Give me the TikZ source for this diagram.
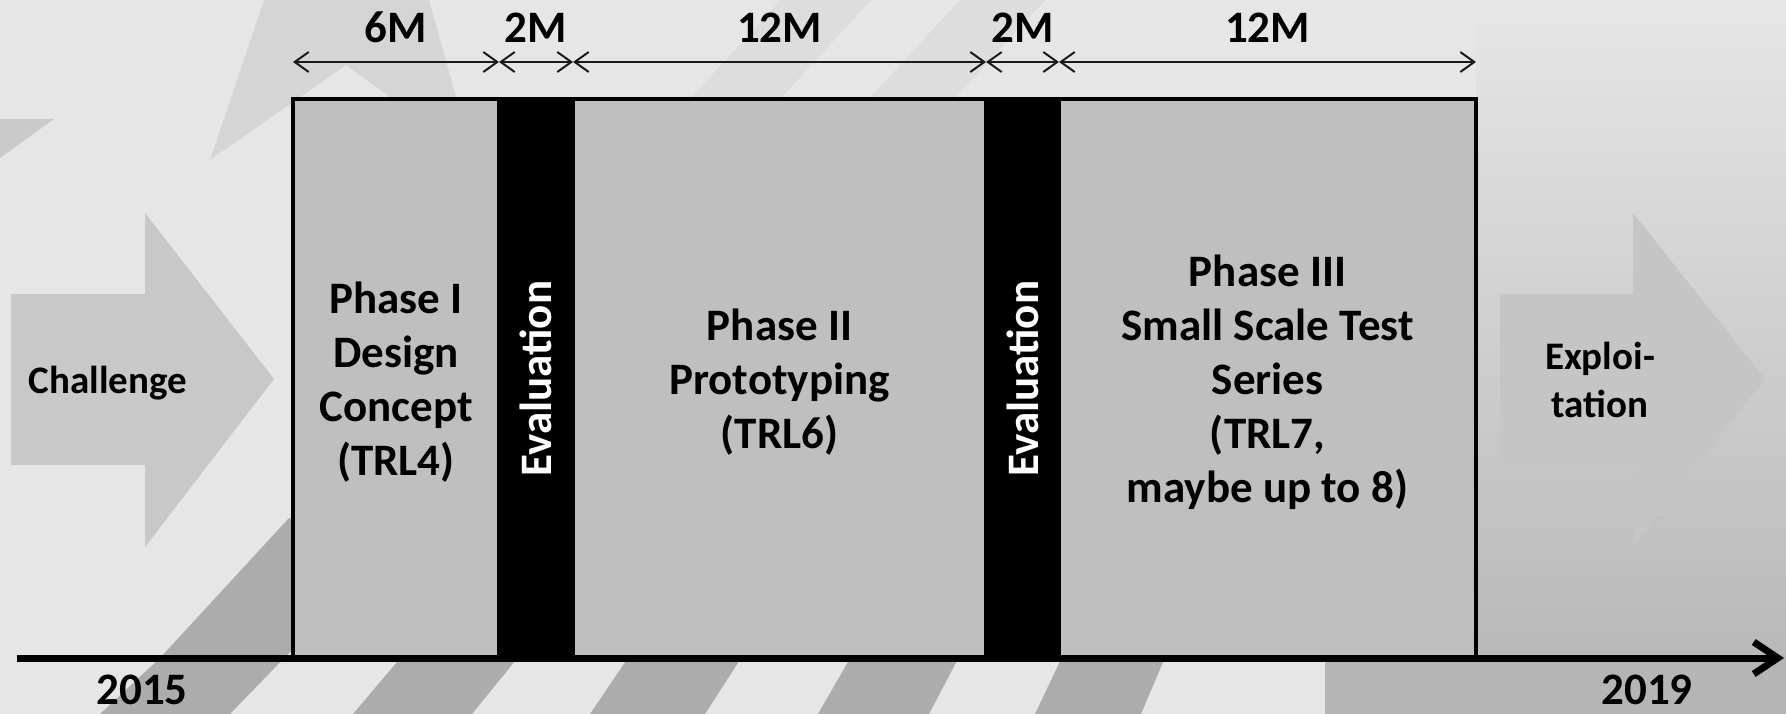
\documentclass[tikz,border=0pt]{standalone}
\usepackage{fontspec}
\setmainfont{Carlito}
\usetikzlibrary{arrows.meta}
\definecolor{bgc}{HTML}{E6E6E6}
\definecolor{segc}{HTML}{BFBFBF}
\definecolor{stripec}{HTML}{ACACAC}
\definecolor{rightc}{HTML}{B5B5B5}
\definecolor{starc}{HTML}{D5D5D5}
\definecolor{faintc}{HTML}{DDDDDD}
\definecolor{tric}{HTML}{CACACA}
\definecolor{arrowc}{HTML}{C8C8C8}
\definecolor{arrowrc}{HTML}{C5C5C5}
\definecolor{dimc}{HTML}{1A1A1A}
\begin{document}
\begin{tikzpicture}[x=1pt,y=-1pt,
  bigfont/.style={font=\bfseries\fontsize{45}{54}\selectfont},
  midfont/.style={font=\bfseries\fontsize{39}{48}\selectfont},
  seg/.style={draw=black, line width=4pt, fill=segc, inner sep=0pt,
    minimum height=559pt},
  phasetext/.style={align=center, inner sep=0pt, bigfont},
  evalbar/.style={draw=black, line width=4pt, fill=black, text=white,
    rotate=90, minimum width=559pt, minimum height=74pt, inner sep=0pt, bigfont},
  dimarrow/.style={draw=dimc, line width=2pt,
    {Straight Barb[length=14pt,width=20pt]}-{Straight Barb[length=14pt,width=20pt]}},
  axisline/.style={draw=black, line width=7pt, -{Straight Barb[length=24pt,width=32pt]}},
  lbl/.style={bigfont, anchor=base, inner sep=0pt}
]
\useasboundingbox (0,0) rectangle (1786,714);
% background
\fill[bgc] (0,0) rectangle (1786,714);
\shade[top color=bgc, bottom color=rightc!95!white] (1476,0) rectangle (1786,658);
\fill[rightc] (1325,655) rectangle (1786,714);
% decorative shapes
\fill[starc] (264,0) -- (210,160) -- (346,65) -- (390,97) -- (457,100) -- (429,0) -- cycle;
\fill[tric] (0,119) -- (54,119) -- (0,158) -- cycle;
\fill[faintc] (689,100) -- (781,0) -- (871,0) -- (779,100) -- cycle;
\fill[faintc] (868,100) -- (960,0) -- (1045,0) -- (953,100) -- cycle;
% stripes
\fill[stripec] (100,714) -- (160,658) -- (289,518) -- (420,518) -- (230,714) -- cycle;
\fill[stripec] (353,714) -- (403,655) -- (520,655) -- (472,714) -- cycle;
\fill[stripec] (590,714) -- (630,655) -- (743,655) -- (705,714) -- cycle;
\fill[stripec] (818,714) -- (852,655) -- (960,655) -- (929,714) -- cycle;
\fill[stripec] (1035,714) -- (1063,655) -- (1166,655) -- (1141,714) -- cycle;
% side arrows
\fill[arrowc] (11,294) -- (145,294) -- (145,213) -- (274,379) -- (145,547) -- (145,465) -- (11,465) -- cycle;
\fill[arrowrc] (1500,294) -- (1633,294) -- (1633,213) -- (1765,379) -- (1633,547) -- (1633,465) -- (1500,465) -- cycle;
\node[midfont, anchor=base, inner sep=0pt] (chal) at (108,393) {Challenge};
\node[midfont, align=center, inner sep=0pt] (expl) at (1600,380) {Exploi-\\tation};
% phases
\node[seg, minimum width=206pt] (p1) at (396,378.5) {};
\node[evalbar] (e1) at (536,378.5) {Evaluation};
\node[seg, minimum width=413pt] (p2) at (779.5,378.5) {};
\node[evalbar, minimum height=73pt] (e2) at (1022.5,378.5) {Evaluation};
\node[seg, minimum width=417pt] (p3) at (1267.5,378.5) {};
\node[phasetext] (t1) at ([yshift=-4pt]p1.center) {Phase I\\Design\\Concept\\(TRL4)};
\node[phasetext] (t2) at ([yshift=-4pt]p2.center) {Phase II\\Prototyping\\(TRL6)};
\node[phasetext] (t3) at ([yshift=-4pt]p3.center) {Phase III\\Small Scale Test\\Series\\(TRL7,\\maybe up to 8)};
% dimension arrows
\coordinate (d0) at (293,62);
\coordinate (d1) at (499,62);
\coordinate (d2) at (573,62);
\coordinate (d3) at (986,62);
\coordinate (d4) at (1059,62);
\coordinate (d5) at (1476,62);
\draw[dimarrow] (d0) -- (d1);
\draw[dimarrow] (d1) -- (d2);
\draw[dimarrow] (d2) -- (d3);
\draw[dimarrow] (d3) -- (d4);
\draw[dimarrow] (d4) -- (d5);
\node[lbl] (m1) at (396,43) {6M};
\node[lbl] (m2) at (536,43) {2M};
\node[lbl] (m3) at (779.5,43) {12M};
\node[lbl] (m4) at (1022.5,43) {2M};
\node[lbl] (m5) at (1267.5,43) {12M};
% time axis
\coordinate (a0) at (17,658);
\coordinate (a1) at (1784,658);
\draw[axisline] (a0) -- (a1);
\node[lbl] (y1) at (142,704) {2015};
\node[lbl] (y2) at (1647,704) {2019};
\end{tikzpicture}
\end{document}
